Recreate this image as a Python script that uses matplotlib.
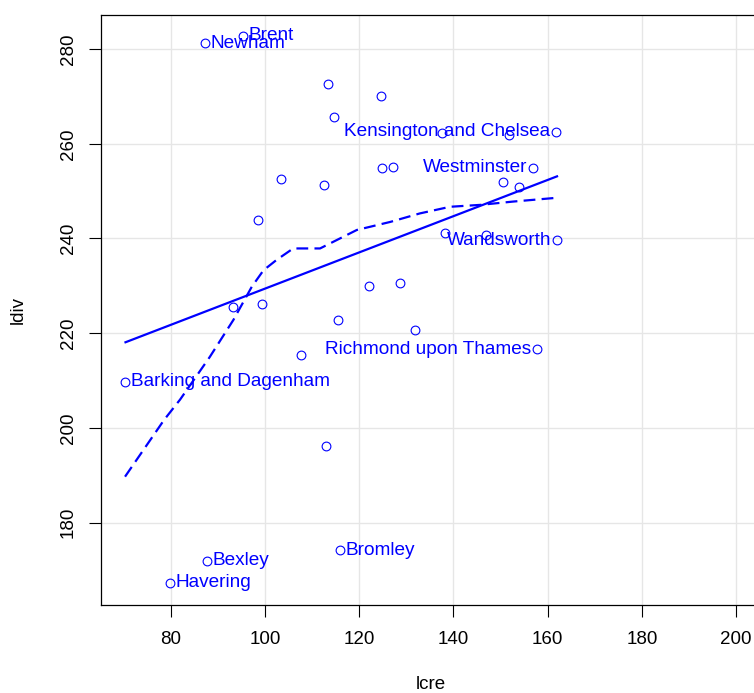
import numpy as np
import matplotlib
matplotlib.use('Agg')
from matplotlib import pyplot as plt

plt.rcParams['font.family'] = ['Liberation Sans', 'DejaVu Sans']
plt.rcParams['lines.scale_dashes'] = False

# borough data (lcre, ldiv)
lcre = [87.2, 95.4, 103.5, 112.5, 98.5, 93.3, 99.4, 115.5, 107.7, 70.4,
        138.3, 146.9, 162.0, 122.0, 128.7, 131.9, 157.7, 113.3, 124.7, 114.7,
        137.5, 151.9, 161.8, 124.9, 127.1, 156.8, 150.6, 153.9, 112.9, 115.9,
        87.6, 79.9]
ldiv = [281.2, 282.8, 252.6, 251.4, 243.9, 225.5, 226.2, 222.8, 215.3, 209.7,
        241.1, 240.8, 239.6, 230.0, 230.5, 220.7, 216.6, 272.6, 270.1, 265.7,
        262.3, 261.8, 262.5, 254.9, 255.1, 254.9, 252.0, 250.8, 196.1, 174.2,
        171.9, 167.3]
names = ['Newham', 'Brent', '', '', '', '', '', '', '', 'Barking and Dagenham',
         '', '', 'Wandsworth', '', '', '', 'Richmond upon Thames', '', '', '',
         '', '', 'Kensington and Chelsea', '', '', 'Westminster', '', '', '', 'Bromley',
         'Bexley', 'Havering']

# smoother curve
smooth_x = [70.3, 78.6, 82.0, 88.3, 93.3, 97.2, 99.7, 102.5, 106.0, 111.7,
            114.5, 119.5, 126.6, 132.9, 139.3, 145.7, 152.7, 162.0]
smooth_y = [189.7, 201.7, 206.0, 215.0, 222.8, 229.8, 233.3, 235.5, 237.9, 237.9,
            239.3, 241.8, 243.5, 245.3, 246.7, 247.1, 247.8, 248.6]

x = np.array(lcre)
y = np.array(ldiv)

fig = plt.figure(figsize=(7.54, 6.93), dpi=100)
ax = fig.add_axes([101/754, 88/693, 660/754, 590/693])

ax.grid(True, color='#e6e6e6', linewidth=1)
ax.set_axisbelow(True)

ax.plot(x, y, 'o', mfc='none', mec='blue', ms=6.3, mew=0.8)

b, a = np.polyfit(x, y, 1)
xx = np.array([x.min(), x.max()])
ax.plot(xx, a + b*xx, color='blue', lw=1.6)
ax.plot(smooth_x, smooth_y, color='blue', lw=1.6, dashes=(8.5, 4.5))

for xi, yi, nm in zip(lcre, ldiv, names):
    if not nm:
        continue
    if xi > 140:
        ax.annotate(nm, (xi, yi), xytext=(-4, 0), textcoords='offset points',
                    ha='right', va='center', color='blue', fontsize=13.7)
    else:
        ax.annotate(nm, (xi, yi), xytext=(4, 0), textcoords='offset points',
                    ha='left', va='center', color='blue', fontsize=13.7)

ax.set_xlim(65.2, 205.3)
ax.set_ylim(162.6, 287.2)
ax.set_xticks(np.arange(80, 201, 20))
ax.set_yticks(np.arange(180, 281, 20))
ax.tick_params(direction='out', length=8.5, width=0.8, labelsize=13.5)
ax.tick_params(axis='x', pad=10)
ax.tick_params(axis='y', pad=9)
for lab in ax.get_yticklabels():
    lab.set_rotation(90)
    lab.set_va('center')
for s in ax.spines.values():
    s.set_linewidth(0.9)
ax.set_xlabel('lcre', fontsize=13.5, labelpad=20.5)
ax.set_ylabel('ldiv', fontsize=13.5, labelpad=24)

plt.savefig('out.png', dpi=100)
